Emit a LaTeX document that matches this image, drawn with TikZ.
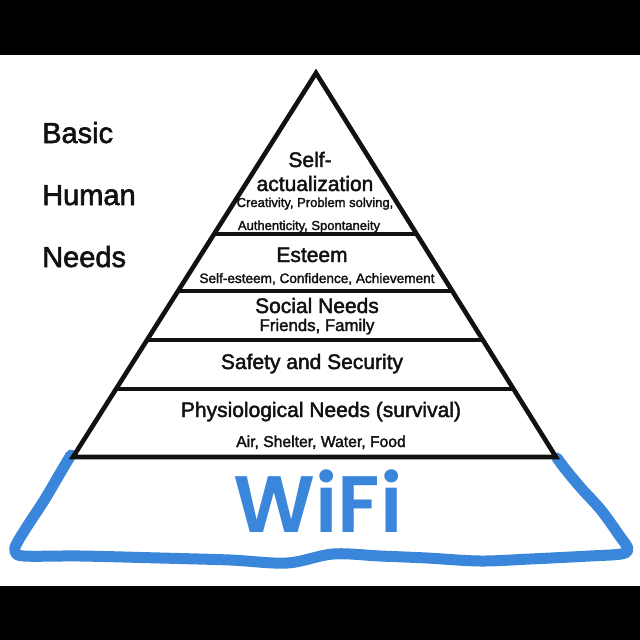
\documentclass[tikz,border=0pt]{standalone}
\usepackage{fontspec}
\setmainfont{Liberation Sans}[BoldFont=Liberation Sans,BoldFeatures={FakeBold=2}]
\newfontfamily\wififont{Poppins}[UprightFont=* SemiBold]
\usetikzlibrary{calc}
\definecolor{WifiBlue}{HTML}{3A86DA}
\definecolor{InkBlack}{HTML}{111111}

\begin{document}
\begin{tikzpicture}[
  x=1pt,y=-1pt,
  outline/.style={draw=InkBlack,line width=4.6pt,line join=miter},
  divider/.style={draw=InkBlack,line width=3.4pt},
  hand/.style={draw=WifiBlue,line width=11pt,line cap=round,line join=round},
  sidelabel/.style={anchor=base west,inner sep=0pt,text=InkBlack,
    font=\bfseries\fontsize{29}{32}\selectfont},
  tiertitle/.style={anchor=base,inner sep=0pt,text=InkBlack,
    font=\bfseries\fontsize{21}{24}\selectfont},
  tiernote/.style={anchor=base,inner sep=0pt,text=InkBlack,
    font=\bfseries\fontsize{13}{15}\selectfont}
]
\useasboundingbox (0,0) rectangle (640,640);
\fill[black] (0,0) rectangle (640,55);
\fill[white] (0,55) rectangle (640,586);
\fill[black] (0,586) rectangle (640,640);

% wifi base, drawn by hand
\draw[hand] plot[smooth,tension=0.55] coordinates {
  (71,455) (62,470) (45,499) (28,525) (17,543) (15,551) (24,556)
  (80,556) (160,558) (230,560) (287,563) (333,554) (380,556)
  (427,558) (480,561) (530,559) (590,556) (621,554) (628,549)
  (619,535) (601,510) (581,488) (566,470) (557,458)};
\node[anchor=base,inner sep=0pt,text=WifiBlue,
  font=\wififont\fontsize{80}{80}\selectfont] (wifi) at (318,532) {WiFi};

% pyramid
\coordinate (apex) at (316,73);
\coordinate (bl) at (73,457);
\coordinate (br) at (556,457);
\foreach \t in {0.419,0.568,0.695,0.823}
  \draw[divider] ($(apex)!\t!(bl)$) -- ($(apex)!\t!(br)$);
\draw[outline] (apex) -- (bl) -- (br) -- cycle;

\node[sidelabel] (basic) at (42,143) {Basic};
\node[sidelabel] (human) at (42,205) {Human};
\node[sidelabel] (needs) at (42,267) {Needs};

\node[tiertitle] (self) at (310,167) {Self-};
\node[tiertitle] (actual) at (315,191) {actualization};
\node[tiernote] (creat) at (315,207) {Creativity, Problem solving,};
\node[tiernote] (auth) at (309,230) {Authenticity, Spontaneity};
\node[tiertitle] (esteem) at (312,262) {Esteem};
\node[tiernote,font=\bfseries\fontsize{13.6}{15}\selectfont] (estnote) at (317,283)
  {Self-esteem, Confidence, Achievement};
\node[tiertitle] (social) at (317,313) {Social Needs};
\node[tiertitle,font=\bfseries\fontsize{16.8}{19}\selectfont] (socnote) at (317,331)
  {Friends, Family};
\node[tiertitle] (safety) at (312,369) {Safety and Security};
\node[tiertitle] (physio) at (321,417) {Physiological Needs (survival)};
\node[tiertitle,font=\bfseries\fontsize{15.7}{18}\selectfont] (physnote) at (321,447)
  {Air, Shelter, Water, Food};
\end{tikzpicture}
\end{document}
